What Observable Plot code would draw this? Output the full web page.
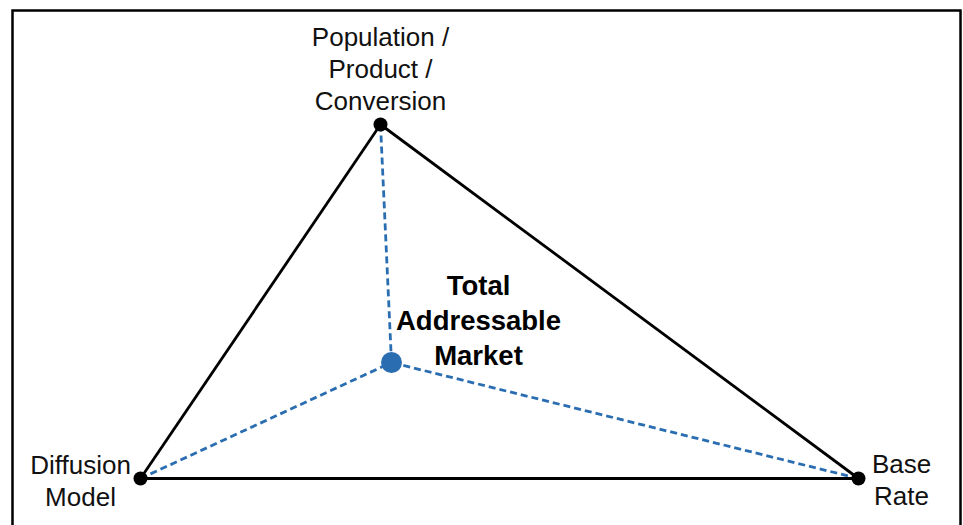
<!DOCTYPE html>
<html>
<head>
<meta charset="utf-8">
<script src="https://cdn.jsdelivr.net/npm/d3@7"></script>
<script src="https://cdn.jsdelivr.net/npm/@observablehq/plot@0.6"></script>
<style>
  html, body { margin: 0; padding: 0; background: #fff; overflow: hidden; }
  #chart svg { display: block; }
</style>
</head>
<body>
<div id="chart"></div>
<script>
// Vertices of the triangle (diagram coordinates)
const nodeNames = ["Population / Product / Conversion", "Base Rate", "Diffusion Model"];
const nodeX = [380, 858, 140];
const nodeY = [124, 478, 478];

// Central point
const centerName = ["Total Addressable Market"];
const centerX = [391];
const centerY = [362];

// Labels
const labelText = ["Population /\nProduct /\nConversion", "Base\nRate", "Diffusion\nModel"];
const labelX = [380, 901, 80];
const labelY = [67, 478, 479];
const centerLabel = ["Total\nAddressable\nMarket"];
const centerLabelX = [478];
const centerLabelY = [318];

const nodes = nodeNames.map((n, i) => ({name: n, x: nodeX[i], y: nodeY[i]}));
const edges = nodes.map((n, i) => ({a: n, b: nodes[(i + 1) % nodes.length]}));
const spokes = nodes.map(n => ({a: n, cx: centerX[0], cy: centerY[0]}));
const labels = labelText.map((t, i) => ({t, x: labelX[i], y: labelY[i]}));

const blue = "#2a6db0";
const font = "'Liberation Sans', Arial, Helvetica, sans-serif";

const chart = Plot.plot({
  width: 963,
  height: 525,
  margin: 0,
  x: {domain: [0, 963], axis: null},
  y: {domain: [525, 0], axis: null},
  style: {fontFamily: font, background: "#fff", overflow: "visible"},
  marks: [
    Plot.frame({stroke: "#000", strokeWidth: 2.5, insetLeft: 12, insetTop: 10, insetRight: 3, insetBottom: -30}),
    Plot.link(spokes, {x1: d => d.a.x, y1: d => d.a.y, x2: "cx", y2: "cy",
      stroke: blue, strokeWidth: 2.8, strokeDasharray: "7,4"}),
    Plot.link(edges, {x1: d => d.a.x, y1: d => d.a.y, x2: d => d.b.x, y2: d => d.b.y,
      stroke: "#000", strokeWidth: 2.8}),
    Plot.dot(nodes, {x: "x", y: "y", r: 7, fill: "#000", stroke: "none"}),
    Plot.dot(centerName, {x: () => centerX[0], y: () => centerY[0], r: 10.5, fill: blue, stroke: "none"}),
    Plot.text(labels, {x: "x", y: "y", text: "t", fontSize: 26, lineHeight: 1.23,
      lineAnchor: "middle", textAnchor: "middle", fill: "#111"}),
    Plot.text(centerLabel, {x: () => centerLabelX[0], y: () => centerLabelY[0], text: d => d,
      fontSize: 27.5, lineHeight: 1.27, lineAnchor: "middle", textAnchor: "middle",
      fill: "#000", fontWeight: "bold"})
  ]
});
document.getElementById("chart").appendChild(chart);
</script>
</body>
</html>
